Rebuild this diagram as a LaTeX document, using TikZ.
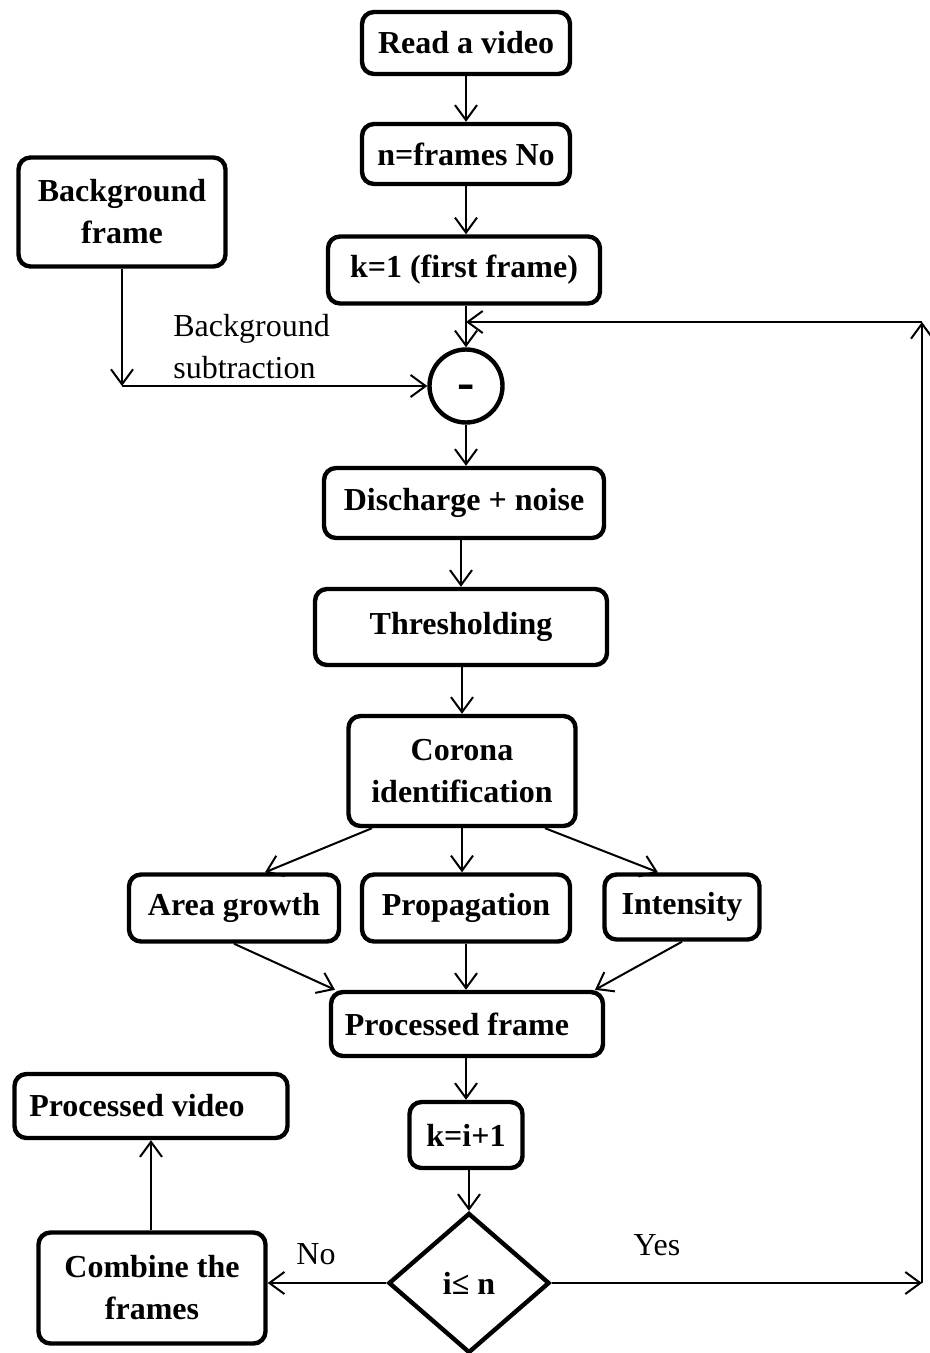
\documentclass[tikz,border=0pt]{standalone}
\usepackage{fontspec}
\setmainfont{Liberation Serif}
\usetikzlibrary{arrows.meta,shapes.geometric}
\begin{document}
\begin{tikzpicture}[x=0.5pt,y=-0.5pt,
 box/.style={draw, line width=2.2pt, rounded corners=6pt, align=center, font=\fontsize{16}{21}\selectfont\bfseries, inner sep=0pt},
 conn/.style={line width=1pt, -{Straight Barb[length=7.5pt,width=11pt,line width=1pt]}},
 lbl/.style={font=\fontsize{16}{21}\selectfont, align=left, inner sep=0pt}]
\useasboundingbox (0,0) rectangle (930,1353);
\node[box, minimum width=104pt, minimum height=31pt] (read) at (466,43) {Read a video};
\node[box, minimum width=104pt, minimum height=30pt] (nfr) at (466,154) {n=frames No};
\node[box, minimum width=136pt, minimum height=33.5pt] (k1) at (464,270) {k=1 (first frame)};
\node[box, minimum width=103.5pt, minimum height=54.5pt] (bg) at (122,212) {Background\\frame};
\node[box, circle, rounded corners=0pt, minimum size=36.5pt, font=\fontsize{26}{26}\selectfont\bfseries] (minus) at (466,386) {\raisebox{-6.5pt}[0pt][0pt]{-}};
\node[box, minimum width=140pt, minimum height=35pt] (dis) at (464,503) {Discharge + noise};
\node[box, minimum width=146pt, minimum height=38pt] (thr) at (461,627) {Thresholding};
\node[box, minimum width=113.5pt, minimum height=55pt] (cor) at (462,771) {Corona\\identification};
\node[box, minimum width=105pt, minimum height=33.5pt] (area) at (234,908) {Area growth};
\node[box, minimum width=104pt, minimum height=33.5pt] (prop) at (466,908) {Propagation};
\node[box, minimum width=77.5pt, minimum height=32.5pt] (int) at (682,907) {Intensity};
\node[box, minimum width=136pt, minimum height=32pt] (pf) at (467,1024) {Processed frame\hspace*{10pt}};
\node[box, minimum width=56.5pt, minimum height=33pt] (ki) at (466,1135) {k=i+1};
\node[box, diamond, rounded corners=0pt, minimum width=80.5pt, minimum height=70pt] (dec) at (469,1283) {i≤ n};
\node[box, minimum width=113.5pt, minimum height=55.5pt] (comb) at (152,1288) {Combine the\\frames};
\node[box, minimum width=136.5pt, minimum height=32pt] (pv) at (151,1106) {Processed video\hspace*{14pt}};

\coordinate (bgc) at (122,386);
\coordinate (r1) at (922,1283);
\coordinate (r2) at (922,322);
\coordinate (jn) at (466,322);

\draw[conn] (read) -- (nfr);
\draw[conn] (nfr) -- (nfr |- k1.north);
\draw[conn] (k1.south -| minus) -- (minus.north);
\draw[conn] (bg.south) -- (bgc);
\draw[conn] (bgc) -- (minus.west);
\draw[conn] (minus.south) -- (minus.south |- dis.north);
\draw[conn] (dis.south -| thr) -- (thr.north);
\draw[conn] (thr.south) -- (thr.south -| cor) -- (cor.north);
\draw[conn] ([xshift=-45pt]cor.south) -- ([xshift=15.5pt]area.north);
\draw[conn] (cor.south) -- (cor.south |- prop.north);
\draw[conn] ([xshift=41.5pt]cor.south) -- ([xshift=-12pt]int.north);
\draw[conn] (area.south) -- ([xshift=-66pt]pf.north);
\draw[conn] (prop.south) -- (prop.south |- pf.north);
\draw[conn] (int.south) -- ([xshift=64pt]pf.north);
\draw[conn] (pf.south -| ki) -- (ki.north);
\draw[conn] (ki.south -| dec) -- (dec.north);
\draw[conn] (dec.west) -- (dec.west -| comb.east);
\draw[conn] (comb.north -| pv) -- (pv.south);
\draw[conn] (dec.east) -- (r1);
\draw[conn] (r1) -- (r2);
\draw[conn] (r2) -- (jn);

\node[lbl, anchor=west] (bsl) at (173,347) {Background\\subtraction};
\node[lbl] (nol) at (316,1254) {No};
\node[lbl] (yesl) at (657,1245) {Yes};
\end{tikzpicture}
\end{document}
